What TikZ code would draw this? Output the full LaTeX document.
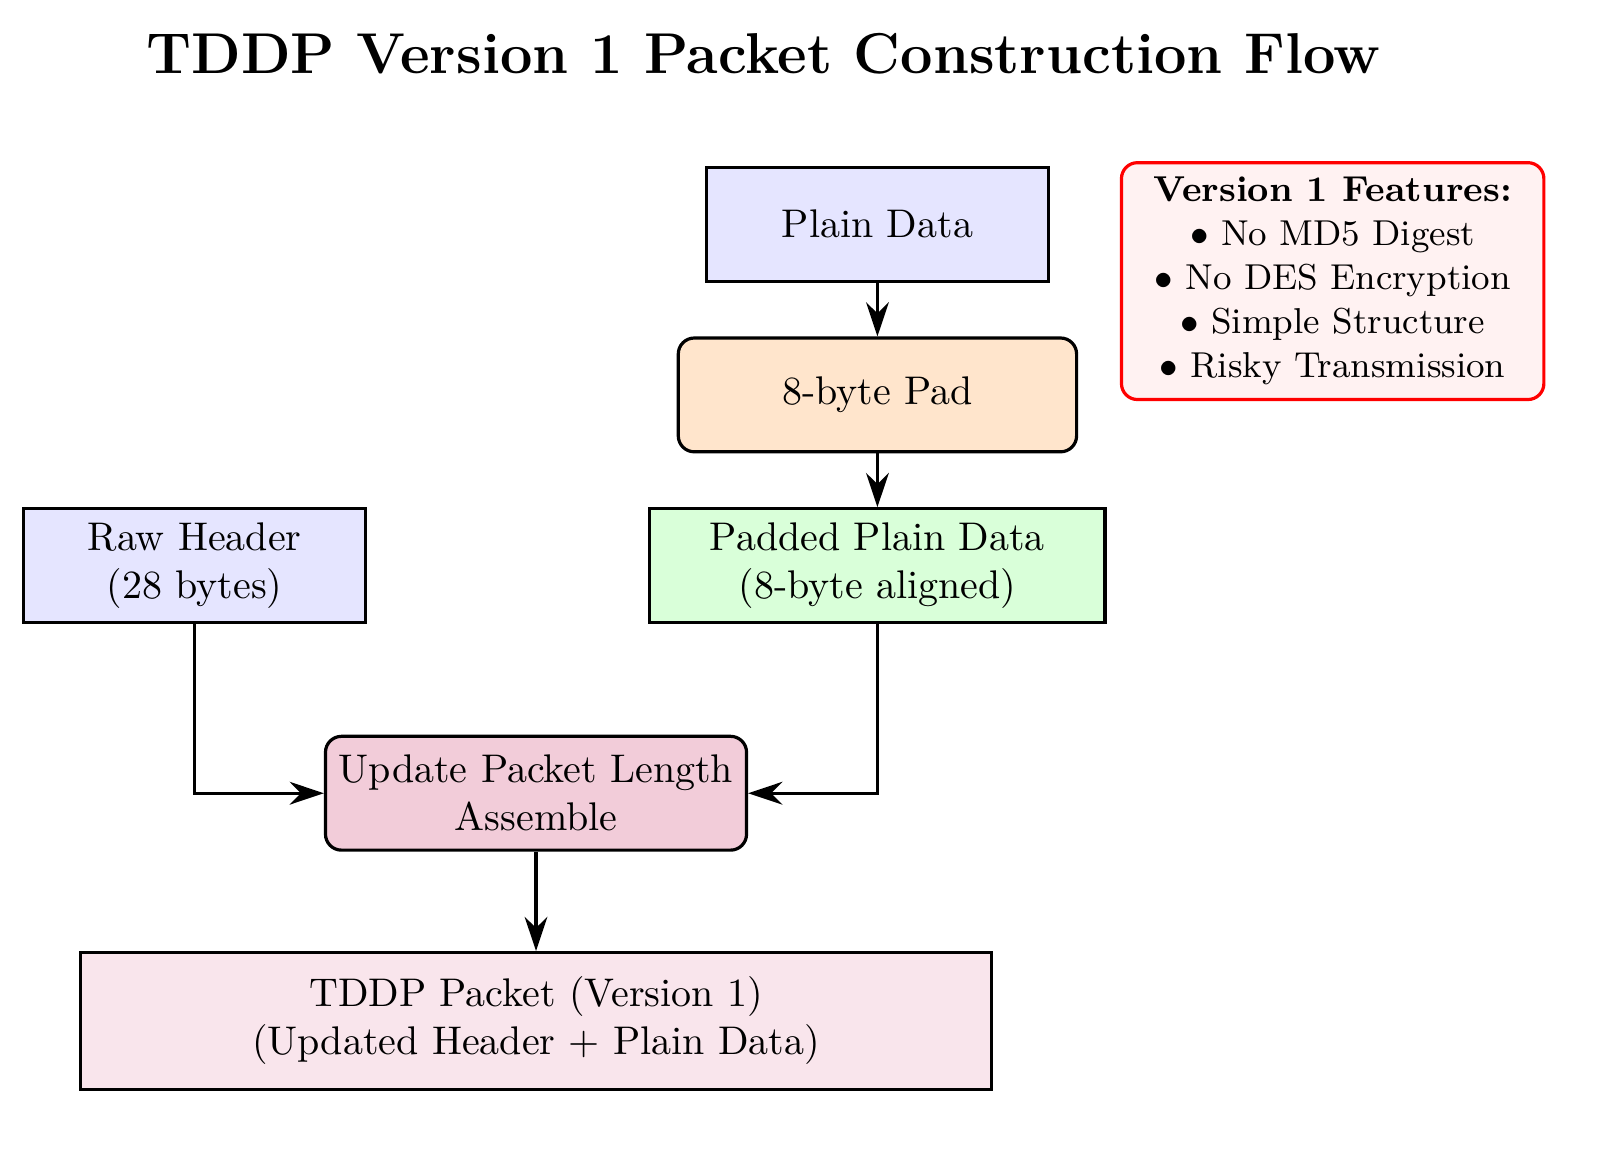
\documentclass[tikz,border=0pt]{standalone}
\usetikzlibrary{positioning, arrows.meta}

\begin{document}
\begin{tikzpicture}
  [->,
   >={Stealth[length=3mm, width=2mm]},
   thick,
   node distance=1.5cm,
   on grid,
   block/.style={rectangle, draw, minimum width=3cm, minimum height=1cm, align=center},
   process/.style={block, rounded corners},
   note/.style={rectangle, draw=red, fill=red!5, rounded corners, align=center, inner xsep=8pt, inner ysep=3.6pt, font=\small}
  ]
  \useasboundingbox (-7.71,-8.16) rectangle (6.56,1.97);

  \node[block, fill=blue!10]                          (plain)                                {Plain Data};
  \node[process, fill=orange!20, minimum width=3.5cm] (pad)     [below=of plain]             {8-byte Pad};
  \node[block, fill=green!15, minimum width=4cm]      (padded)  [below=of pad]               {Padded Plain Data\\(8-byte aligned)};
  \node[block, fill=blue!10]                          (raw)     [left=6cm of padded]         {Raw Header\\(28 bytes)};
  \node[process, fill=purple!20]                      (update)  [below left=2cm and 3cm of padded] {Update Packet Length\\Assemble};
  \node[block, fill=purple!10, minimum width=8cm, minimum height=1.2cm]
                                                      (packet)  [below=2cm of update]        {TDDP Packet (Version 1)\\(Updated Header + Plain Data)};

  \node[note] (features) [below right=0.5cm and 4cm of plain]
            {\textbf{Version 1 Features:}\\$\bullet$ No MD5 Digest\\$\bullet$ No DES Encryption\\$\bullet$ Simple Structure\\$\bullet$ Risky Transmission};

  \node[font=\Large\bfseries] (title) [above left=1.5cm and 1cm of plain]
            {TDDP Version 1 Packet Construction Flow};

  \path (plain)  edge (pad)
        (pad)    edge (padded)
        (update) edge (packet)
        ;
  \draw (raw)    |- (update);
  \draw (padded) |- (update);
\end{tikzpicture}
\end{document}
